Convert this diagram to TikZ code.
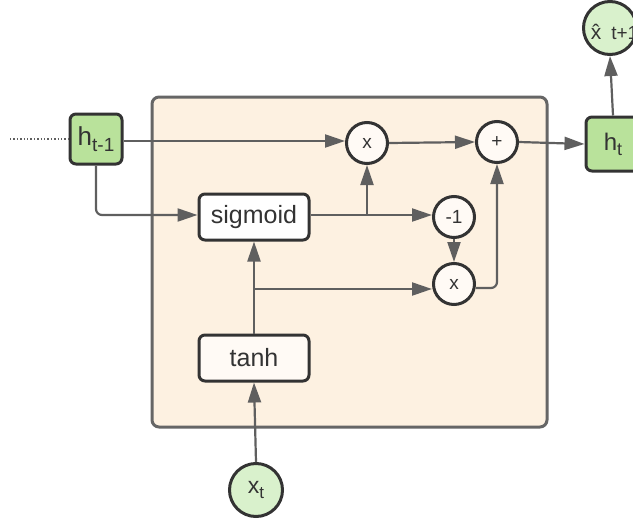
\documentclass[tikz,border=0pt]{standalone}
\usepackage{fontspec}
\setmainfont{Liberation Sans}
\usetikzlibrary{arrows.meta}
\definecolor{bgbox}{HTML}{FDF1E1}
\definecolor{boxline}{HTML}{666666}
\definecolor{nodeline}{HTML}{333333}
\definecolor{hgreen}{HTML}{B9E29B}
\definecolor{cgreen}{HTML}{D9F1CC}
\definecolor{offwhite}{HTML}{FFFAF5}
\definecolor{wire}{HTML}{5F5F5F}
\begin{document}
\begin{tikzpicture}[x=1pt,y=-1pt,
  opbox/.style={draw=nodeline,line width=3pt,rounded corners=6pt,fill=white,minimum width=110pt,minimum height=46pt,inner sep=0pt,font=\fontsize{25}{27}\selectfont,text=black!80},
  hbox/.style={draw=nodeline,line width=3pt,rounded corners=6pt,fill=hgreen,minimum width=52pt,minimum height=50pt,inner sep=0pt,font=\fontsize{26}{28}\selectfont,text=black!80},
  opcirc/.style={draw=nodeline,line width=3pt,circle,fill=offwhite,minimum size=41pt,inner sep=0pt,font=\fontsize{19}{21}\selectfont,text=black!80},
  iocirc/.style={draw=nodeline,line width=3pt,circle,fill=cgreen,minimum size=53pt,inner sep=0pt,font=\fontsize{23}{25}\selectfont,text=black!80},
  wr/.style={draw=wire,line width=2.2pt},
  arr/.style={wr,-{Triangle[length=20pt,width=13pt]}}
]
\useasboundingbox (0,0) rectangle (633,520);
\begin{scope}
\clip (0,0) rectangle (633,520);
\node[draw=boxline,line width=3pt,rounded corners=7pt,fill=bgbox,minimum width=395pt,minimum height=330pt,inner sep=0pt] (cell) at (349.5,262) {};

\node[hbox] (hprev) at (96,139) {h\raisebox{-0.4ex}{\fontsize{19}{21}\selectfont t-1}};
\node[hbox,minimum width=54pt,minimum height=54pt,font=\fontsize{24}{26}\selectfont] (ht) at (613,144) {h\raisebox{-0.4ex}{\fontsize{18}{20}\selectfont t}};
\node[iocirc] (xhat) at (610,28) {\raisebox{-11pt}[0pt][0pt]{\makebox[0pt]{\hspace{9pt}{\fontsize{21}{23}\selectfont\^{x}}\hspace{10pt}{\fontsize{19}{21}\selectfont t+1}}}};
\node[iocirc] (xt) at (256,490) {x\raisebox{-0.4ex}{\fontsize{17}{19}\selectfont t}};

\node[opbox] (sig) at (254,217) {sigmoid};
\node[opbox,fill=offwhite] (tanh) at (254,358) {tanh};

\node[opcirc] (m1) at (367,143) {x};
\node[opcirc] (plus) at (497,142) {+};
\node[opcirc] (neg) at (454,217) {-1};
\node[opcirc] (m2) at (454,284) {x};

\coordinate (dotstart) at (10,139);
\draw[wire,line width=1.4pt,dotted] (dotstart) -- (hprev.west);

\draw[arr] (hprev.east |- 0,141) -- (m1.west |- 0,141);
\draw[arr,rounded corners=6pt] (hprev.south) -- (96,215) -- (sig.west |- 0,215);
\draw[arr] (sig.east |- 0,215) -- (neg.west |- 0,215);
\coordinate (br1) at (367,215);
\draw[arr] (br1) -- (m1.south);
\draw[arr] (m1.east) -- (plus.west);
\draw[arr] (neg.south) -- (m2.north);
\draw[arr] (tanh.north) -- (sig.south);
\coordinate (br2) at (254,289);
\draw[arr] (br2) -- (m2.west |- 0,289);
\draw[arr,rounded corners=6pt] (m2.east |- 0,288) -- (497,288) -- (plus.south);
\draw[arr] (plus.east) -- (ht.west);
\draw[arr] (ht.north) -- (xhat.south);
\draw[arr] (xt.north) -- (tanh.south);
\end{scope}
\end{tikzpicture}
\end{document}
